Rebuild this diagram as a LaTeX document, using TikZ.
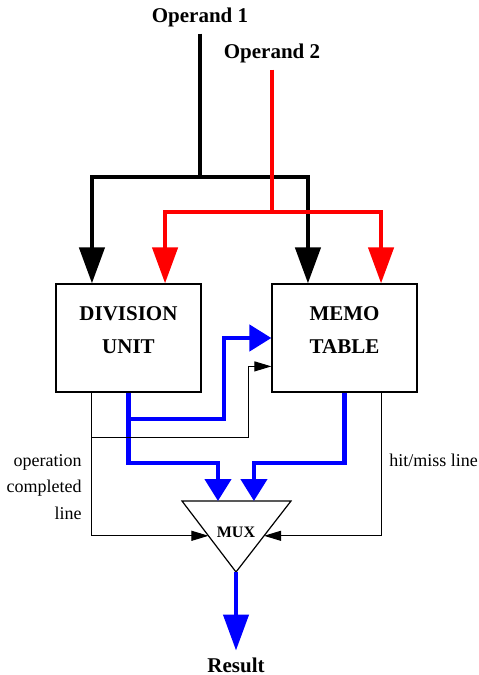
\documentclass[tikz,border=0pt]{standalone}
\usepackage{fontspec}
\setmainfont{Liberation Serif}
\usetikzlibrary{arrows.meta,calc}

\begin{document}
\begin{tikzpicture}[x=0.5pt, y=-0.5pt,
    bus/.style={line width=2.2pt},
    bigtip/.style={-{Triangle[length=18pt,width=12.5pt]}},
    midtip/.style={-{Triangle[length=11pt,width=13pt]}},
    wire/.style={line width=0.5pt, -{Triangle[length=8.5pt,width=5pt]}},
    unit/.style={draw, line width=0.6pt, minimum width=72.5pt, minimum height=54pt},
    unittext/.style={align=center, font=\fontsize{10.5}{16.5}\selectfont\bfseries}]
  \useasboundingbox (0,0) rectangle (478,675);
  % Inputs and units
  \node[font=\fontsize{10.5}{12}\selectfont\bfseries] (op1) at (200,17) {Operand 1};
  \node[font=\fontsize{10.5}{12}\selectfont\bfseries] (op2) at (272,53) {Operand 2};
  \node[unit] (div) at (128.5,338) {};
  \node[unit] (memo) at (344.5,338) {};
  \node[unittext] (divt) at (128.5,330) {DIVISION\\UNIT};
  \node[unittext] (memot) at (344.5,330) {MEMO\\TABLE};
  % Multiplexer (not equilateral, so drawn as a path)
  \coordinate (mtl) at (182,501);
  \coordinate (mtr) at (291,501);
  \coordinate (mb) at (236,572);
  \draw[line width=0.6pt] (mtl) -- (mtr) -- (mb) -- cycle;
  \node[font=\fontsize{8}{9}\selectfont\bfseries] (mux) at (236,532) {MUX};
  \node[font=\fontsize{10.5}{12}\selectfont\bfseries] (res) at (236,665) {Result};
  % Operand buses: black under red
  \coordinate (j1) at (200,177);
  \coordinate (j2) at (272,212);
  \draw[bus] (op1.south) -- (j1);
  \draw[bus, bigtip] (j1) -| ($(div.north west)!0.25!(div.north east)$);
  \draw[bus, bigtip] (j1) -| ($(memo.north west)!0.25!(memo.north east)$);
  \draw[bus, red] (op2.south) -- (j2);
  \draw[bus, red, bigtip] (j2) -| ($(div.north west)!0.75!(div.north east)$);
  \draw[bus, red, bigtip] (j2) -| ($(memo.north west)!0.75!(memo.north east)$);
  % Result buses
  \coordinate (b1) at (224,419);
  \coordinate (busrow) at (0,463);
  \coordinate (in1) at ($(mtl)!0.33!(mtr)$);
  \coordinate (in2) at ($(mtl)!0.66!(mtr)$);
  \draw[bus, blue, midtip] (div.south) |- (b1) |- (memo.west);
  \draw[bus, blue, midtip] (div.south) |- (in1 |- busrow) -- (in1);
  \draw[bus, blue, midtip] (memo.south) |- (in2 |- busrow) -- (in2);
  \draw[bus, blue, bigtip] (mb) -- (res);
  % Control lines
  \coordinate (dc) at ($(div.south west)!0.25!(div.south east)$);
  \coordinate (mc) at ($(memo.south west)!0.75!(memo.south east)$);
  \coordinate (kink) at (248,437);
  \coordinate (ml) at ($(memo.south west)!0.24!(memo.north west)$);
  \coordinate (mleft) at ($(mtl)!0.49!(mb)$);
  \coordinate (mright) at ($(mtr)!0.49!(mb)$);
  \draw[wire] (dc) |- (kink) |- (ml);
  \draw[wire] (dc) |- (mleft);
  \draw[wire] (mc) |- (mright);
  \node[anchor=east, align=right, inner sep=0pt, font=\fontsize{9}{13.3}\selectfont] (opl) at (82,487) {operation\\completed\\line};
  \node[anchor=west, inner sep=0pt, font=\fontsize{9}{11}\selectfont] (hml) at (389,460) {hit/miss line};
\end{tikzpicture}
\end{document}
